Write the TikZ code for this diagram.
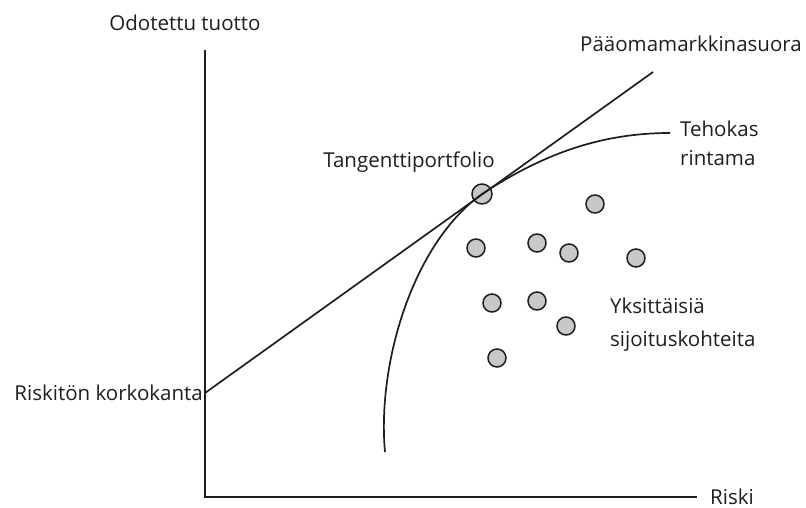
\documentclass[tikz,border=0pt]{standalone}
\usepackage{fontspec}
\setmainfont{Open Sans}
\definecolor{ink}{RGB}{30,30,30}
\definecolor{dotgray}{RGB}{200,200,200}
\tikzset{
  lbl/.style={inner sep=0pt, text=ink, font=\fontsize{20.5}{29}\selectfont},
  axisline/.style={draw=ink, line width=1.8pt},
  curveline/.style={draw=ink, line width=1.7pt},
  asset/.style={circle, draw=ink, fill=dotgray, line width=1.5pt, minimum size=18pt, inner sep=0pt},
  tangent/.style={circle, draw=ink, fill=dotgray, line width=1.5pt, minimum size=20pt, inner sep=0pt}
}
\begin{document}
\begin{tikzpicture}[x=1pt,y=-1pt]
\useasboundingbox (0,0) rectangle (806,508);
% coordinates
\coordinate (ytop) at (205,50);
\coordinate (orig) at (205,497);
\coordinate (xend) at (697,497);
\coordinate (rf) at (205,393);
\coordinate (cmlend) at (653,72);
\coordinate (effstart) at (385,452);
\coordinate (effend) at (670,133);
% tangency portfolio and assets
\node[tangent] (T) at (482,194) {};
\node[asset] (a1) at (595,204) {};
\node[asset] (a2) at (476,248) {};
\node[asset] (a3) at (537,243) {};
\node[asset] (a4) at (569,253) {};
\node[asset] (a5) at (636,258) {};
\node[asset] (a6) at (492,303) {};
\node[asset] (a7) at (537,301) {};
\node[asset] (a8) at (566,326) {};
\node[asset] (a9) at (497,358) {};
% axes
\draw[axisline] (ytop) -- (orig) -- (xend);
% capital market line
\draw[curveline] (rf) -- (cmlend);
% efficient frontier
\draw[curveline] (effstart) .. controls (377,365) and (412,244) .. (T.center)
  .. controls (537,158) and (595,133) .. (effend);
% labels
\node[lbl] (ylab) at (185,23) {Odotettu tuotto};
\node[lbl, anchor=west] (cmllab) at (580,44) {Pääomamarkkinasuora};
\node[lbl, anchor=west, align=left] (efflab) at (680,143) {Tehokas\\rintama};
\node[lbl] (tlab) at (409,162) {Tangenttiportfolio};
\node[lbl, anchor=west, align=left, font=\fontsize{20.5}{33}\selectfont] (assetlab) at (610,325) {Yksittäisiä\\sijoituskohteita};
\node[lbl, anchor=east] (rflab) at (203,393) {Riskitön korkokanta};
\node[lbl, anchor=west] (xlab) at (710,497) {Riski};
\end{tikzpicture}
\end{document}
